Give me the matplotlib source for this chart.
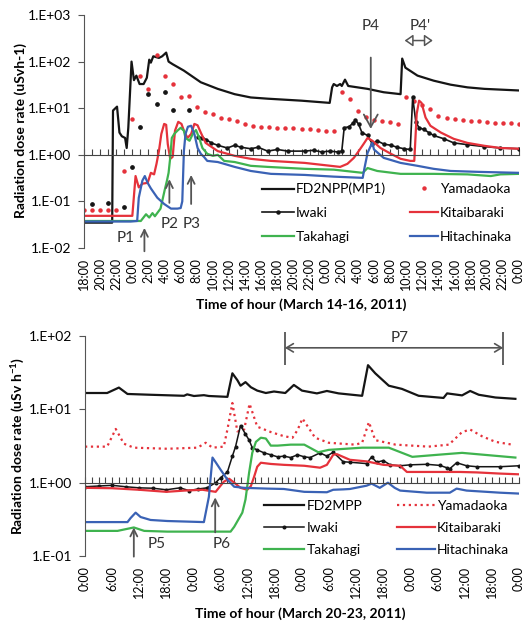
import matplotlib.pyplot as plt
import numpy as np

plt.rcParams['font.family'] = ['Lato', 'DejaVu Sans']
plt.rcParams['mathtext.default'] = 'regular'

# ---- top panel: hours after March 14 18:00 ----
fd_h = [0, 3.5, 3.6, 4.1, 4.4, 4.7, 5.1, 5.3, 5.5, 5.9, 6.2, 6.5, 6.9, 7.4, 7.8, 8.1, 8.3, 8.6, 9.3, 9.7,
        10.2, 10.5, 11.0, 12.4, 14.5, 16.6, 18.7, 20.7, 22.8, 27.0, 30.5, 30.8, 31.0, 31.4, 31.8, 32.0, 32.4,
        32.8, 35.2, 37.2, 39.3, 39.5, 39.9, 41.4, 43.4, 45.5, 47.6, 49.7, 54.0]
fd_v = [0.035, 0.035, 8.9, 10.8, 3.0, 2.5, 2.3, 1.4, 3.8, 100, 40, 50, 33, 33, 45, 110, 95, 130, 120, 130,
        156, 100, 88, 64, 36, 26, 20, 17, 16, 14.5, 13, 28, 33, 30, 33, 30, 41,
        30, 26, 22, 20, 116, 74, 50, 39, 32, 28, 26, 24]

yam_h = list(range(55))
yam_v = [0.065, 0.065, 0.065, 0.065, 0.066, 0.45, 5.9, 48, 26, 141, 50, 33, 17, 18.5, 10.8, 8.4, 7.6, 6.3,
         5.9, 5.4, 4.6, 4.2, 4.0, 3.9, 3.8, 3.8, 3.7, 3.6, 3.5, 3.4, 3.3, 3.2, 22, 16, 8.8, 6.5, 5.6, 5.4,
         5.0, 4.6, 17, 14.5, 12, 9.8, 6.9, 6.2, 5.9, 5.6, 5.3, 5.2, 5.0, 4.9, 4.8, 4.7, 4.6]

iw_early_h = [1, 3, 5, 6, 7, 8, 9, 10, 11, 13]
iw_early_v = [0.089, 0.093, 0.077, 0.55, 4.0, 20, 12.5, 22.6, 9.3, 9.3]
iw_h = [14.2, 14.7, 15.2, 15.8, 16.6, 17.8, 18.7, 19.5, 20.7, 21.6, 22.8, 24.0, 25.3, 27.4, 28.5, 29.5,
        30.5, 31.5, 32.0, 32.3, 32.9, 33.4, 33.7, 34.1, 34.5, 35.2, 35.8, 36.4, 37.2, 38.1, 38.9, 39.7,
        40.5, 40.8, 41.2, 41.6, 42.2, 42.8, 43.4, 44.7, 45.9, 47.6, 49.7, 51.7, 54.0]
iw_v = [2.4, 2.3, 2.1, 1.8, 1.6, 1.4, 1.6, 1.45, 1.35, 1.45, 1.2, 1.3, 1.2, 1.2, 1.25, 1.15,
        1.2, 1.15, 1.2, 3.8, 4.0, 4.8, 5.6, 4.5, 3.0, 2.6, 1.7, 2.0, 1.7, 1.6, 1.45, 1.35,
        1.3, 17, 5.0, 3.8, 3.5, 3.0, 2.6, 2.2, 1.8, 1.65, 1.5, 1.4, 1.35]

kit_h = [0, 6.0, 6.4, 6.8, 7.25, 7.9, 8.3, 8.7, 9.0, 9.3, 9.6, 9.95, 10.2, 10.4, 10.7, 11.0, 11.3, 11.7,
         12.1, 12.4, 12.85, 13.3, 13.7, 14.1, 14.5, 15.1, 16.6, 18.7, 20.7, 23.2, 27.4, 31.8, 32.7, 33.5,
         34.1, 34.7, 35.2, 35.8, 36.8, 38.1, 39.3, 40.5, 41.0, 41.3, 41.6, 41.9, 42.4, 43.0, 44.3, 45.9,
         47.6, 49.7, 51.7, 54.0]
kit_v = [0.049, 0.049, 0.35, 0.2, 0.24, 0.25, 0.41, 0.38, 0.64, 1.2, 2.8, 4.6, 4.4, 1.7, 0.82, 0.9, 3.3, 5.1,
         4.6, 3.3, 2.3, 2.8, 4.6, 4.3, 3.0, 1.8, 1.2, 0.95, 0.82, 0.74, 0.67, 0.55, 0.64, 0.86,
         1.2, 1.7, 2.3, 2.0, 1.4, 1.05, 0.82, 0.74, 0.74, 7.6, 14.5, 13, 6.3, 4.2, 3.0, 2.2,
         1.8, 1.56, 1.4, 1.35]

tak_h = [0, 7.05, 7.7, 8.1, 8.5, 8.8, 9.5, 10.0, 10.3, 10.5, 10.7, 10.9, 11.2, 11.6, 12.0, 12.4, 12.6, 13.1,
         13.5, 13.9, 14.3, 14.7, 15.3, 16.0, 16.6, 17.4, 18.7, 20.7, 22.8, 27.4, 31.0, 34.6, 35.2, 36.4,
         39.3, 43.4, 47.6, 50.5, 51.7, 54.0]
tak_v = [0.038, 0.038, 0.053, 0.045, 0.056, 0.048, 0.07, 0.17, 0.28, 0.41, 0.86, 2.3, 2.8, 3.3, 3.8, 3.3,
         2.3, 2.0, 2.8, 3.4, 2.3, 1.4, 1.05, 0.95, 1.0, 0.74, 0.7, 0.58, 0.55, 0.5, 0.48, 0.41, 0.52, 0.45,
         0.39, 0.39, 0.38, 0.35, 0.38, 0.39]

hit_h = [0, 5.8, 6.6, 6.8, 7.25, 7.55, 7.9, 8.3, 9.1, 9.95, 10.8, 11.6, 12.0, 12.2, 12.4, 12.6, 12.9, 13.3,
         13.7, 14.1, 14.5, 14.9, 15.3, 16.6, 17.4, 18.7, 20.7, 23.2, 27.4, 31.0, 34.6, 34.8, 35.2, 35.6,
         35.8, 36.0, 37.2, 39.3, 41.4, 43.4, 45.5, 49.0, 54.0]
hit_v = [0.037, 0.037, 0.038, 0.12, 0.28, 0.35, 0.25, 0.19, 0.12, 0.088, 0.07, 0.07, 0.072, 0.1, 1.2, 2.8,
         4.0, 4.2, 2.8, 1.4, 1.05, 0.9, 0.74, 0.7, 0.64, 0.55, 0.45, 0.39, 0.37, 0.34, 0.32, 0.5, 1.1, 1.56,
         1.8, 1.3, 0.86, 0.67, 0.58, 0.5, 0.45, 0.43, 0.41]

# ---- bottom panel: hours after March 20 0:00 ----
fd2_h = [0, 4.9, 7.5, 9.4, 14.5, 21.9, 22.6, 24.1, 26.3, 27.4, 31.5, 32.6, 33.7, 34.4, 35.5, 36.7, 38.1,
         40.0, 41.8, 44.3, 46.2, 48.0, 51.3, 53.5, 56.1, 61.3, 62.6, 64.2, 67.2, 70.1, 73.8, 79.3, 80.1,
         83.4, 85.2, 87.1, 90.8, 95.2]
fd2_v = [16.7, 16.7, 19.8, 16.2, 15.8, 15.3, 16.0, 15.2, 15.6, 15.2, 14.8, 31, 25, 21, 23.5, 20, 18,
         16.7, 17.5, 16.7, 21.5, 18, 16.5, 17.8, 16.5, 15.3, 40, 31, 21, 19, 15.3, 14.3, 16.5,
         15.5, 17.8, 15.8, 14.5, 13.9]

yam2_h = [0, 4.9, 6.8, 8.6, 10.8, 18.2, 24.9, 26.7, 28.2, 30.7, 31.5, 32.6, 33.7, 35.2, 36.4, 38.1, 41.1,
          44.0, 45.9, 47.0, 48.1, 50.9, 53.9, 59.8, 61.3, 62.8, 64.2, 68.7, 76.0, 80.5, 83.4, 85.2, 87.8,
          90.8, 94.5]
yam2_v = [3.1, 3.1, 5.4, 3.4, 3.0, 2.9, 3.0, 3.5, 3.0, 3.1, 5.3, 12.2, 5.0, 5.3, 11.9, 5.8, 4.9,
          4.3, 4.1, 5.2, 7.5, 4.1, 3.5, 3.3, 3.5, 6.7, 3.8, 3.3, 3.1, 3.3, 4.9, 5.3, 4.3,
          3.6, 3.3]

iw2_h = [0, 3, 6, 9, 12, 15, 18, 21, 23, 25, 27, 28.9, 30.0, 31.5, 32.6, 33.3, 34.4, 35.5, 36.3, 37.0,
         38.1, 39.6, 41.1, 42.6, 44.0, 45.5, 47.0, 48.5, 49.8, 52.0, 53.5, 54.9, 57.1, 58.6, 62.3, 63.4,
         64.5, 66.0, 67.5, 69.7, 71.9, 75.6, 78.5, 80.0, 80.7, 82.2, 84.4, 86.7, 91.8, 96.0]
iw2_v = [0.88, 0.9, 0.92, 0.88, 0.85, 0.84, 0.8, 0.85, 0.78, 0.82, 0.85, 1.0, 1.17, 1.4, 2.3, 3.1, 6.0,
         4.6, 3.8, 3.0, 2.8, 2.55, 2.4, 2.25, 2.3, 2.2, 2.4, 2.25, 2.2, 2.55, 2.3, 2.6, 1.93, 1.9, 1.82,
         2.25, 1.9, 2.0, 1.75, 1.7, 1.75, 1.78, 1.72, 1.6, 1.55, 1.87, 1.7, 1.65, 1.65, 1.7]

kit2_h = [0, 6, 12, 18, 22, 26, 28.9, 29.6, 30.7, 31.9, 33.0, 34.4, 35.9, 36.7, 37.4, 38.1, 38.9, 41.1,
          44.0, 48.5, 51.3, 52.0, 53.5, 54.9, 55.7, 58.6, 62.3, 66.0, 69.7, 71.2, 75.6, 82.9, 86.7, 91.8, 96.0]
kit2_v = [0.85, 0.84, 0.8, 0.75, 0.78, 0.8, 0.75, 0.85, 1.03, 1.13, 1.0, 0.85, 0.8, 0.9, 1.2, 1.65, 1.87,
          1.8, 1.75, 1.7, 1.62, 1.6, 1.75, 2.4, 2.45, 2.05, 1.95, 1.75, 1.7, 1.4, 1.4, 1.4, 1.38, 1.33, 1.3]

tak2_h = [0, 7.2, 10.1, 10.8, 13.1, 18.2, 25.6, 32.2, 33.0, 34.8, 35.5, 36.3, 37.0, 37.8, 38.9, 40.0, 41.1,
          42.6, 45.5, 48.5, 51.6, 53.9, 61.3, 67.2, 72.4, 78, 83.4, 95.2]
tak2_v = [0.22, 0.22, 0.24, 0.245, 0.22, 0.215, 0.215, 0.215, 0.25, 0.39, 0.59, 1.37, 2.55, 3.6, 4.1, 4.0,
          3.2, 3.2, 3.3, 3.3, 2.6, 2.8, 3.0, 3.0, 2.25, 2.4, 2.55, 2.2]

hit2_h = [0, 9.4, 10.1, 11.2, 12.3, 14.5, 18.2, 26.3, 27.4, 28.2, 28.9, 30.0, 31.5, 33.0, 35.2, 40.3, 44.0,
          48.5, 53.5, 54.9, 57.1, 58.6, 62.3, 63.4, 65.2, 67.0, 68.5, 69.7, 75.6, 80.7, 82.2, 84.4, 91.8, 96.0]
hit2_v = [0.29, 0.29, 0.33, 0.39, 0.34, 0.31, 0.3, 0.29, 0.64, 2.2, 1.9, 1.5, 1.1, 0.88, 0.85, 0.83, 0.82,
          0.75, 0.74, 0.8, 0.81, 0.82, 0.91, 0.97, 0.85, 1.0, 0.85, 0.78, 0.73, 0.73, 0.83, 0.78, 0.73, 0.71]

RED = '#e5323b'
GREEN = '#3fb34f'
BLUE = '#3a62b5'
BLACK = '#151515'
ARROW = '#555555'

W, H = 525, 625
fig = plt.figure(figsize=(W / 100, H / 100), dpi=100)


def fx(px):
    return px / W


def fy(py):
    return 1 - py / H


def fmt_dec(v, pos):
    return '1.E%+03d' % int(round(np.log10(v)))


def setup(ax, xmax, ylo, yhi, minor_step, lab_step, lab_fn, pad_top):
    ax.set_yscale('log')
    ax.set_ylim(ylo, yhi)
    ax.set_xlim(0, xmax)
    ax.spines['top'].set_visible(False)
    ax.spines['right'].set_visible(False)
    ax.spines['left'].set_color('#555555')
    ax.spines['bottom'].set_position(('data', 1))
    ax.spines['bottom'].set_color('#444444')
    ax.set_xticks(np.arange(0, xmax + 0.01, minor_step))
    ax.tick_params(axis='x', direction='in', length=4, color='#444444', labelbottom=False)
    ax.set_yticks([10.0 ** k for k in range(int(np.log10(ylo)), int(np.log10(yhi)) + 1)])
    ax.yaxis.set_major_formatter(plt.FuncFormatter(fmt_dec))
    ax.yaxis.set_minor_locator(plt.NullLocator())
    ax.tick_params(axis='y', direction='out', length=4, color='#555555', labelsize=10, pad=5)
    sec = ax.secondary_xaxis('bottom')
    ticks = np.arange(0, xmax + 0.01, lab_step)
    sec.set_xticks(ticks, labels=[lab_fn(t) for t in ticks])
    sec.tick_params(length=0, pad=pad_top, labelsize=9, rotation=90)
    sec.spines['bottom'].set_visible(False)
    return sec


# ---------------- top panel ----------------
ax1 = fig.add_axes([fx(84), fy(248), fx(519) - fx(84), fy(15) - fy(248)])
setup(ax1, 54, 1e-2, 1e3, 1, 2, lambda t: '%d:00' % ((18 + int(t)) % 24), 7)

l_fd, = ax1.plot(fd_h, fd_v, color=BLACK, lw=1.6, label='FD2NPP(MP1)')
l_yam, = ax1.plot(yam_h, yam_v, 'o', ms=2.2, color=RED, ls='none', label='Yamadaoka')
ax1.plot(iw_early_h, iw_early_v, 'o', ms=2.4, color=BLACK, ls='none')
l_iw, = ax1.plot(iw_h, iw_v, '-o', ms=2.2, lw=1.2, color=BLACK, label='Iwaki')
l_kit, = ax1.plot(kit_h, kit_v, color=RED, lw=1.6, label='Kitaibaraki')
l_tak, = ax1.plot(tak_h, tak_v, color=GREEN, lw=1.6, label='Takahagi')
l_hit, = ax1.plot(hit_h, hit_v, color=BLUE, lw=1.6, label='Hitachinaka')

fig.text(fx(21), fy(131), 'Radiation dose rate (uSvh-1)', rotation=90, ha='center', va='center',
         fontsize=10, fontweight='bold')
fig.text(fx(301), fy(305), 'Time of hour (March 14-16, 2011)', ha='center', va='center',
         fontsize=10, fontweight='bold')

leg_kw = dict(frameon=False, fontsize=10, handletextpad=0.15, borderpad=0,
              borderaxespad=0, loc='center left', bbox_transform=fig.transFigure)
lg = ax1.legend([l_fd, l_iw, l_tak], ['FD2NPP(MP1)', 'Iwaki', 'Takahagi'], handlelength=2.3,
                labelspacing=0.85, bbox_to_anchor=(fx(262), fy(213)), **leg_kw)
ax1.add_artist(lg)
ax1.legend([l_yam, l_kit, l_hit], ['Yamadaoka', 'Kitaibaraki', 'Hitachinaka'], handlelength=2.0,
           labelspacing=0.85, bbox_to_anchor=(fx(410), fy(213)), **leg_kw)

arr = dict(arrowstyle='->,head_length=0.5,head_width=0.25', color=ARROW, lw=1.3, shrinkA=0, shrinkB=0)
ax1.annotate('', xy=(7.5, 0.027), xytext=(7.5, 0.0085), arrowprops=arr, annotation_clip=False)
ax1.annotate('', xy=(10.6, 0.30), xytext=(10.6, 0.093), arrowprops=arr, annotation_clip=False)
ax1.annotate('', xy=(13.3, 0.37), xytext=(13.3, 0.088), arrowprops=arr, annotation_clip=False)
ax1.text(5.2, 0.0165, 'P1', fontsize=11, ha='center', va='center', color='#333333')
ax1.text(10.6, 0.033, 'P2', fontsize=11, ha='center', va='center', color='#333333')
ax1.text(13.3, 0.033, 'P3', fontsize=11, ha='center', va='center', color='#333333')
ax1.annotate('', xy=(35.6, 3.6), xytext=(35.6, 122),
             arrowprops=dict(arrowstyle='->,head_length=0.9,head_width=0.5', color=ARROW, lw=1.3,
                             shrinkA=0, shrinkB=0), annotation_clip=False)
ax1.text(35.6, 590, 'P4', fontsize=11, ha='center', va='center', color='#333333')
ax1.text(41.7, 590, "P4'", fontsize=11, ha='center', va='center', color='#333333')
ax1.annotate('', xy=(39.8, 283), xytext=(43.3, 283),
             arrowprops=dict(arrowstyle='<|-|>,head_length=0.5,head_width=0.35', fc='white', ec=ARROW,
                             lw=1.1, shrinkA=0, shrinkB=0), annotation_clip=False)

# ---------------- bottom panel ----------------
ax2 = fig.add_axes([fx(85), fy(556), fx(519) - fx(85), fy(336) - fy(556)])
setup(ax2, 96, 1e-1, 1e2, 1.5, 6, lambda t: '%d:00' % (int(t) % 24), 7)

m_fd, = ax2.plot(fd2_h, fd2_v, color=BLACK, lw=1.6, label='FD2MPP')
m_yam, = ax2.plot(yam2_h, yam2_v, ls=':', color=RED, lw=1.6, label='Yamadaoka')
m_iw, = ax2.plot(iw2_h, iw2_v, '-o', ms=1.9, lw=1.1, color=BLACK, label='Iwaki')
m_kit, = ax2.plot(kit2_h, kit2_v, color=RED, lw=1.6, label='Kitaibaraki')
m_tak, = ax2.plot(tak2_h, tak2_v, color=GREEN, lw=1.6, label='Takahagi')
m_hit, = ax2.plot(hit2_h, hit2_v, color=BLUE, lw=1.6, label='Hitachinaka')

fig.text(fx(18), fy(446), 'Radiation dose rate (uSv h$^{-1}$)', rotation=90, ha='center', va='center',
         fontsize=10, fontweight='bold')
fig.text(fx(300), fy(614), 'Time of hour (March 20-23, 2011)', ha='center', va='center',
         fontsize=10, fontweight='bold')

lg2 = ax2.legend([m_fd, m_iw, m_tak], ['FD2MPP', 'Iwaki', 'Takahagi'], handlelength=2.9,
                 labelspacing=0.7, bbox_to_anchor=(fx(264), fy(528)), **leg_kw)
ax2.add_artist(lg2)
ax2.legend([m_yam, m_kit, m_hit], ['Yamadaoka', 'Kitaibaraki', 'Hitachinaka'], handlelength=2.7,
           labelspacing=0.7, bbox_to_anchor=(fx(397), fy(528)), **leg_kw)

ax2.annotate('', xy=(10.8, 0.245), xytext=(10.8, 0.098), arrowprops=arr, annotation_clip=False)
ax2.annotate('', xy=(28.8, 0.63), xytext=(28.8, 0.21), arrowprops=arr, annotation_clip=False)
ax2.text(15.9, 0.144, 'P5', fontsize=11, ha='center', va='center', color='#333333')
ax2.text(30.3, 0.144, 'P6', fontsize=11, ha='center', va='center', color='#333333')
ax2.annotate('', xy=(44.2, 69), xytext=(92.5, 69),
             arrowprops=dict(arrowstyle='<->,head_length=0.5,head_width=0.3', color=ARROW, lw=1.2,
                             shrinkA=0, shrinkB=0), annotation_clip=False)
ax2.vlines([44.2, 92.5], 40, 113, color=ARROW, lw=1.3, clip_on=False)
ax2.text(69.5, 94, 'P7', fontsize=11, ha='center', va='center', color='#333333')

fig.savefig('out.png', dpi=100)
